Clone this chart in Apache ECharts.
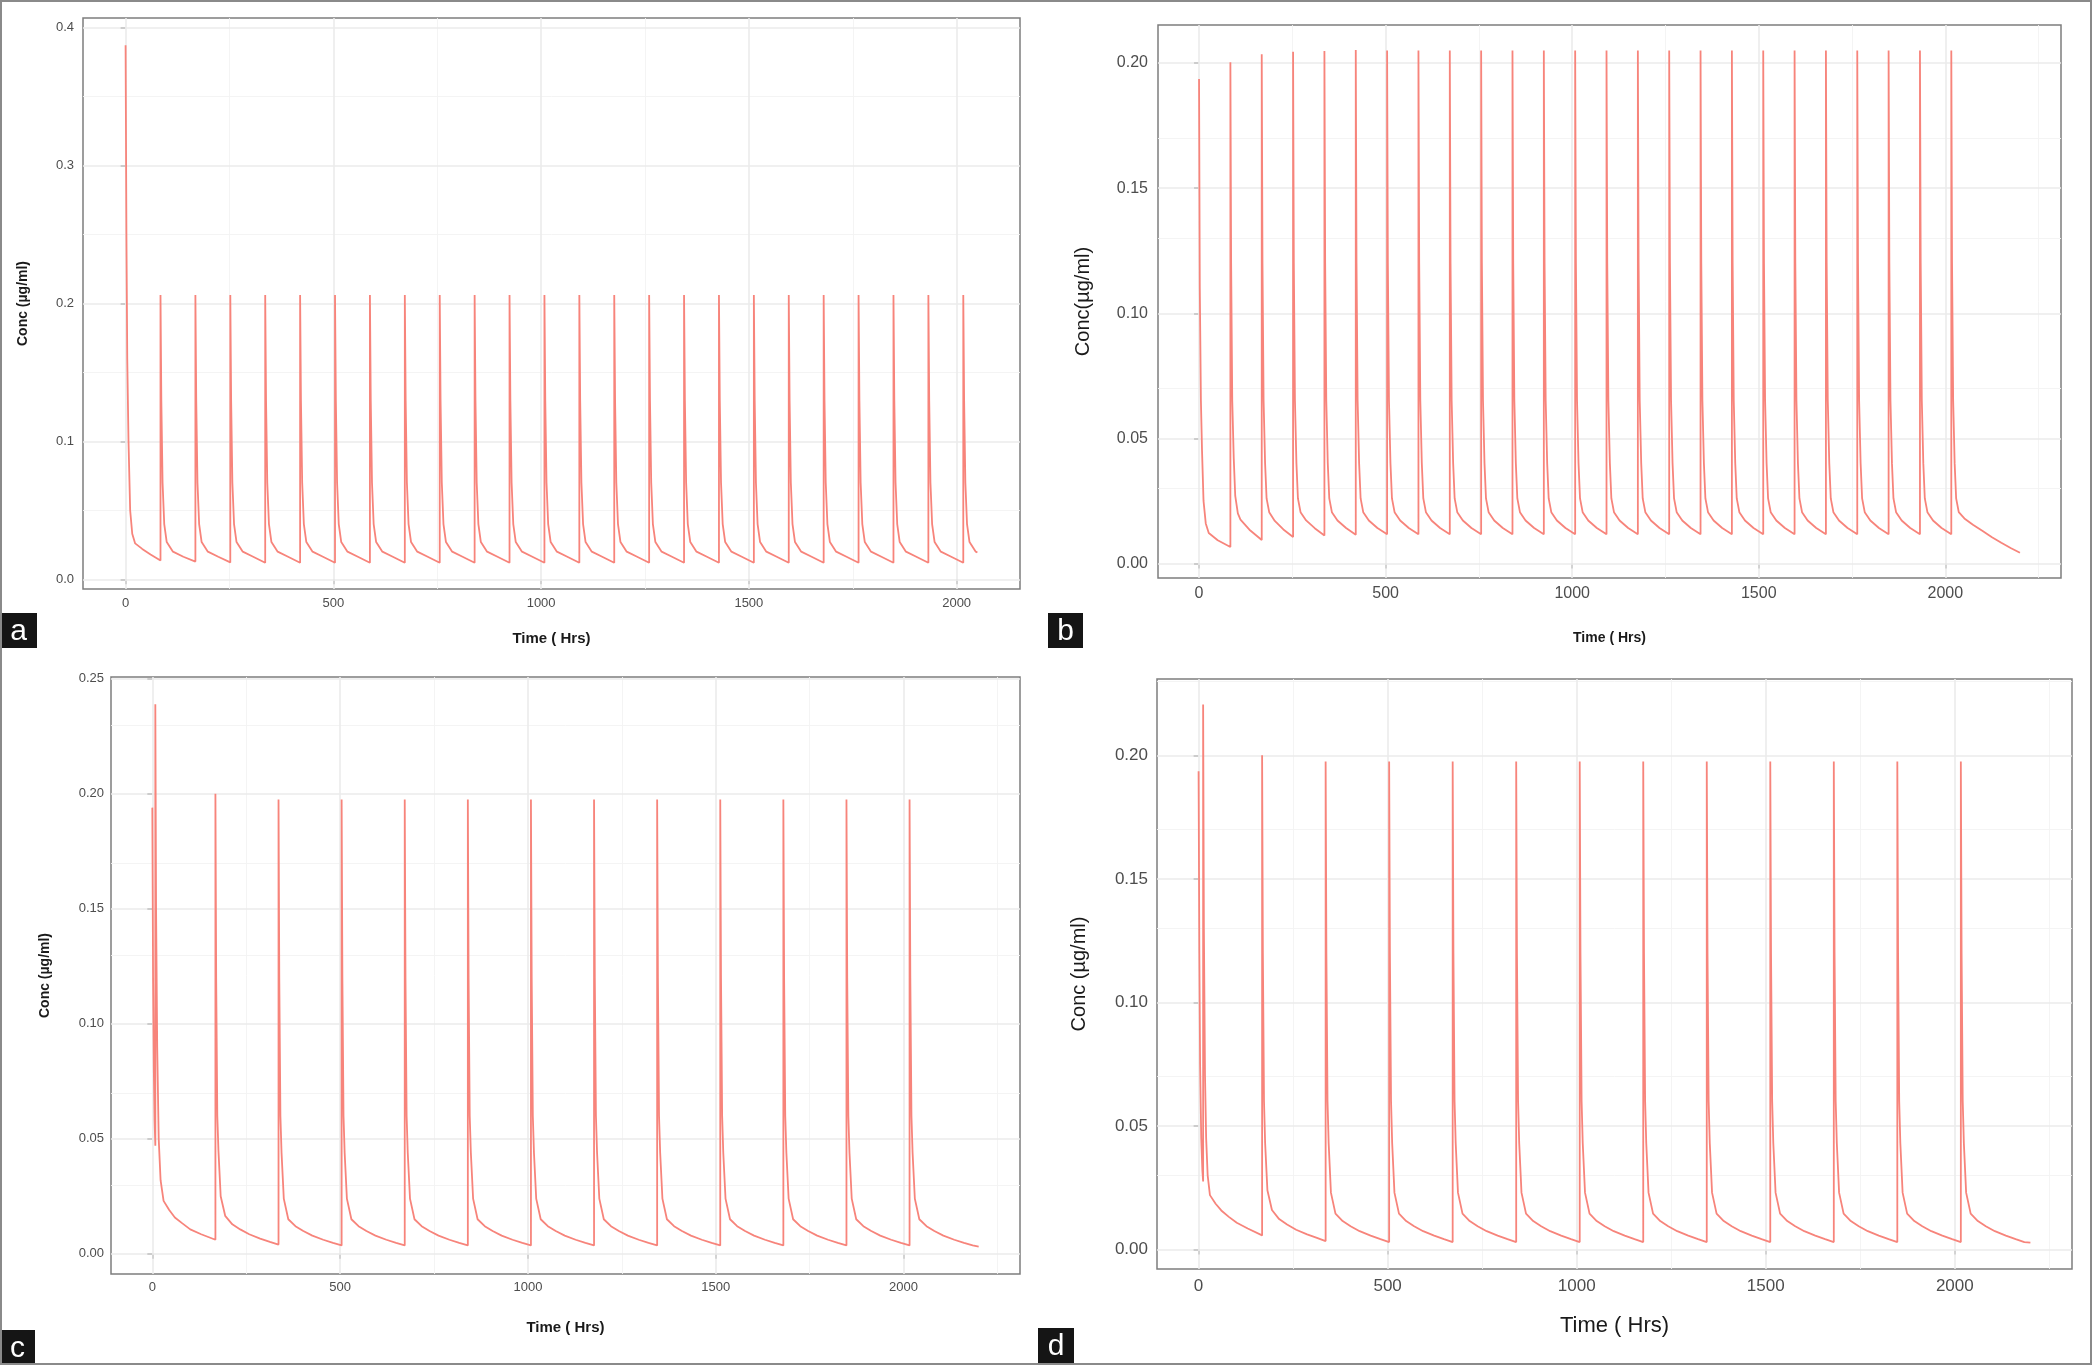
<!DOCTYPE html>
<html>
<head>
<meta charset="utf-8">
<script src="https://cdn.jsdelivr.net/npm/echarts@6/dist/echarts.min.js"></script>
<style>
  html, body { margin: 0; padding: 0; background: #fff; }
  #chart { width: 2092px; height: 1365px; }
</style>
</head>
<body>
<div id="chart"></div>
<script>
// tick values shared by the four panels
const X_MAJOR = [0, 500, 1000, 1500, 2000];
const X_MINOR_A = [250, 750, 1250, 1750];
const X_MINOR = [250, 750, 1250, 1750, 2250];
const Y_MAJOR_A = [0, 0.1, 0.2, 0.3, 0.4];
const Y_MINOR_A = [0.05, 0.15, 0.25, 0.35];
const Y_MAJOR_B = [0, 0.05, 0.10, 0.15, 0.20];
const Y_MINOR_B = [0.025, 0.075, 0.125, 0.175];
const Y_MAJOR_C = [0, 0.05, 0.10, 0.15, 0.20, 0.25];
const Y_MINOR_C = [0.025, 0.075, 0.125, 0.175, 0.225];
const Y_MAJOR_D = [0, 0.05, 0.10, 0.15, 0.20];
const Y_MINOR_D = [0.025, 0.075, 0.125, 0.175, 0.225];

// [time (h), conc (ug/ml)]
const concA = [
  [0, 0.387], [2, 0.25], [4, 0.16], [7, 0.10], [11, 0.05], [16, 0.033], [23, 0.026], [40, 0.022], [60, 0.018],
  [84, 0.0136], [84, 0.206], [86, 0.13], [89, 0.07], [93, 0.04], [99, 0.027], [114, 0.020], [139, 0.0163],
  [168, 0.0128], [168, 0.206], [170, 0.13], [173, 0.07], [177, 0.04], [183, 0.027], [198, 0.020], [223, 0.0163],
  [252, 0.0122], [252, 0.206], [254, 0.13], [257, 0.07], [261, 0.04], [267, 0.027], [282, 0.020], [307, 0.0163],
  [336, 0.0120], [336, 0.206], [338, 0.13], [341, 0.07], [345, 0.04], [351, 0.027], [366, 0.020], [391, 0.0163],
  [420, 0.0120], [420, 0.206], [422, 0.13], [425, 0.07], [429, 0.04], [435, 0.027], [450, 0.020], [475, 0.0163],
  [504, 0.0120], [504, 0.206], [506, 0.13], [509, 0.07], [513, 0.04], [519, 0.027], [534, 0.020], [559, 0.0163],
  [588, 0.0120], [588, 0.206], [590, 0.13], [593, 0.07], [597, 0.04], [603, 0.027], [618, 0.020], [643, 0.0163],
  [672, 0.0120], [672, 0.206], [674, 0.13], [677, 0.07], [681, 0.04], [687, 0.027], [702, 0.020], [727, 0.0163],
  [756, 0.0120], [756, 0.206], [758, 0.13], [761, 0.07], [765, 0.04], [771, 0.027], [786, 0.020], [811, 0.0163],
  [840, 0.0120], [840, 0.206], [842, 0.13], [845, 0.07], [849, 0.04], [855, 0.027], [870, 0.020], [895, 0.0163],
  [924, 0.0120], [924, 0.206], [926, 0.13], [929, 0.07], [933, 0.04], [939, 0.027], [954, 0.020], [979, 0.0163],
  [1008, 0.0120], [1008, 0.206], [1010, 0.13], [1013, 0.07], [1017, 0.04], [1023, 0.027], [1038, 0.020], [1063, 0.0163],
  [1092, 0.0120], [1092, 0.206], [1094, 0.13], [1097, 0.07], [1101, 0.04], [1107, 0.027], [1122, 0.020], [1147, 0.0163],
  [1176, 0.0120], [1176, 0.206], [1178, 0.13], [1181, 0.07], [1185, 0.04], [1191, 0.027], [1206, 0.020], [1231, 0.0163],
  [1260, 0.0120], [1260, 0.206], [1262, 0.13], [1265, 0.07], [1269, 0.04], [1275, 0.027], [1290, 0.020], [1315, 0.0163],
  [1344, 0.0120], [1344, 0.206], [1346, 0.13], [1349, 0.07], [1353, 0.04], [1359, 0.027], [1374, 0.020], [1399, 0.0163],
  [1428, 0.0120], [1428, 0.206], [1430, 0.13], [1433, 0.07], [1437, 0.04], [1443, 0.027], [1458, 0.020], [1483, 0.0163],
  [1512, 0.0120], [1512, 0.206], [1514, 0.13], [1517, 0.07], [1521, 0.04], [1527, 0.027], [1542, 0.020], [1567, 0.0163],
  [1596, 0.0120], [1596, 0.206], [1598, 0.13], [1601, 0.07], [1605, 0.04], [1611, 0.027], [1626, 0.020], [1651, 0.0163],
  [1680, 0.0120], [1680, 0.206], [1682, 0.13], [1685, 0.07], [1689, 0.04], [1695, 0.027], [1710, 0.020], [1735, 0.0163],
  [1764, 0.0120], [1764, 0.206], [1766, 0.13], [1769, 0.07], [1773, 0.04], [1779, 0.027], [1794, 0.020], [1819, 0.0163],
  [1848, 0.0120], [1848, 0.206], [1850, 0.13], [1853, 0.07], [1857, 0.04], [1863, 0.027], [1878, 0.020], [1903, 0.0163],
  [1932, 0.0120], [1932, 0.206], [1934, 0.13], [1937, 0.07], [1941, 0.04], [1947, 0.027], [1962, 0.020], [1987, 0.0163],
  [2016, 0.0120], [2016, 0.206], [2018, 0.13], [2021, 0.07], [2025, 0.04], [2031, 0.027], [2046, 0.020], [2050, 0.0194]
];

const concB = [
  [0, 0.1936], [2, 0.11], [5, 0.065], [8, 0.045], [12, 0.025], [18, 0.016], [26, 0.0122], [50, 0.0093],
  [84, 0.0066], [84, 0.2003], [86, 0.12], [89, 0.065], [93, 0.042], [97, 0.027], [104, 0.020], [111, 0.0175], [135, 0.0135],
  [168, 0.0094], [168, 0.2035], [170, 0.12], [173, 0.065], [177, 0.04], [181, 0.026], [188, 0.0205], [203, 0.0170], [226, 0.0136],
  [252, 0.0106], [252, 0.2045], [254, 0.12], [257, 0.065], [261, 0.04], [265, 0.026], [272, 0.0205], [287, 0.0172], [310, 0.0141],
  [336, 0.0112], [336, 0.2048], [338, 0.12], [341, 0.065], [345, 0.04], [349, 0.026], [356, 0.0205], [371, 0.0172], [394, 0.0142],
  [420, 0.0115], [420, 0.2052], [422, 0.12], [425, 0.065], [429, 0.04], [433, 0.026], [440, 0.0205], [455, 0.0172], [478, 0.0142],
  [504, 0.0117], [504, 0.205], [506, 0.12], [509, 0.065], [513, 0.04], [517, 0.026], [524, 0.0205], [539, 0.0172], [562, 0.0142],
  [588, 0.0117], [588, 0.205], [590, 0.12], [593, 0.065], [597, 0.04], [601, 0.026], [608, 0.0205], [623, 0.0172], [646, 0.0142],
  [672, 0.0117], [672, 0.205], [674, 0.12], [677, 0.065], [681, 0.04], [685, 0.026], [692, 0.0205], [707, 0.0172], [730, 0.0142],
  [756, 0.0117], [756, 0.205], [758, 0.12], [761, 0.065], [765, 0.04], [769, 0.026], [776, 0.0205], [791, 0.0172], [814, 0.0142],
  [840, 0.0117], [840, 0.205], [842, 0.12], [845, 0.065], [849, 0.04], [853, 0.026], [860, 0.0205], [875, 0.0172], [898, 0.0142],
  [924, 0.0117], [924, 0.205], [926, 0.12], [929, 0.065], [933, 0.04], [937, 0.026], [944, 0.0205], [959, 0.0172], [982, 0.0142],
  [1008, 0.0117], [1008, 0.205], [1010, 0.12], [1013, 0.065], [1017, 0.04], [1021, 0.026], [1028, 0.0205], [1043, 0.0172], [1066, 0.0142],
  [1092, 0.0117], [1092, 0.205], [1094, 0.12], [1097, 0.065], [1101, 0.04], [1105, 0.026], [1112, 0.0205], [1127, 0.0172], [1150, 0.0142],
  [1176, 0.0117], [1176, 0.205], [1178, 0.12], [1181, 0.065], [1185, 0.04], [1189, 0.026], [1196, 0.0205], [1211, 0.0172], [1234, 0.0142],
  [1260, 0.0117], [1260, 0.205], [1262, 0.12], [1265, 0.065], [1269, 0.04], [1273, 0.026], [1280, 0.0205], [1295, 0.0172], [1318, 0.0142],
  [1344, 0.0117], [1344, 0.205], [1346, 0.12], [1349, 0.065], [1353, 0.04], [1357, 0.026], [1364, 0.0205], [1379, 0.0172], [1402, 0.0142],
  [1428, 0.0117], [1428, 0.205], [1430, 0.12], [1433, 0.065], [1437, 0.04], [1441, 0.026], [1448, 0.0205], [1463, 0.0172], [1486, 0.0142],
  [1512, 0.0117], [1512, 0.205], [1514, 0.12], [1517, 0.065], [1521, 0.04], [1525, 0.026], [1532, 0.0205], [1547, 0.0172], [1570, 0.0142],
  [1596, 0.0117], [1596, 0.205], [1598, 0.12], [1601, 0.065], [1605, 0.04], [1609, 0.026], [1616, 0.0205], [1631, 0.0172], [1654, 0.0142],
  [1680, 0.0117], [1680, 0.205], [1682, 0.12], [1685, 0.065], [1689, 0.04], [1693, 0.026], [1700, 0.0205], [1715, 0.0172], [1738, 0.0142],
  [1764, 0.0117], [1764, 0.205], [1766, 0.12], [1769, 0.065], [1773, 0.04], [1777, 0.026], [1784, 0.0205], [1799, 0.0172], [1822, 0.0142],
  [1848, 0.0117], [1848, 0.205], [1850, 0.12], [1853, 0.065], [1857, 0.04], [1861, 0.026], [1868, 0.0205], [1883, 0.0172], [1906, 0.0142],
  [1932, 0.0117], [1932, 0.205], [1934, 0.12], [1937, 0.065], [1941, 0.04], [1945, 0.026], [1952, 0.0205], [1967, 0.0172], [1990, 0.0142],
  [2016, 0.0117], [2016, 0.205], [2018, 0.12], [2021, 0.065], [2025, 0.04], [2029, 0.026], [2036, 0.0205], [2051, 0.018], [2074, 0.0155],
  [2100, 0.0130], [2125, 0.0105], [2150, 0.0083], [2175, 0.0062], [2200, 0.0043]
];

const concC = [
  [0, 0.194], [2, 0.12], [4, 0.08], [6, 0.058], [8, 0.047], [8, 0.239], [10, 0.15], [13, 0.09], [17, 0.05], [22, 0.032],
  [30, 0.023], [45, 0.019], [60, 0.0158], [80, 0.0132], [101, 0.0106], [130, 0.0085],
  [168, 0.0061], [168, 0.200], [170, 0.12], [173, 0.06], [176, 0.045], [182, 0.025], [194, 0.0165], [213, 0.0128], [234, 0.0106], [258, 0.0085], [287, 0.0066], [313, 0.0052],
  [336, 0.0040], [336, 0.1975], [338, 0.12], [341, 0.06], [344, 0.044], [350, 0.024], [362, 0.015], [381, 0.0120], [402, 0.0099], [426, 0.0079], [455, 0.0061], [481, 0.0047],
  [504, 0.0036], [504, 0.1975], [506, 0.12], [509, 0.06], [512, 0.044], [518, 0.024], [530, 0.015], [549, 0.0120], [570, 0.0099], [594, 0.0079], [623, 0.0061], [649, 0.0047],
  [672, 0.0036], [672, 0.1975], [674, 0.12], [677, 0.06], [680, 0.044], [686, 0.024], [698, 0.015], [717, 0.0120], [738, 0.0099], [762, 0.0079], [791, 0.0061], [817, 0.0047],
  [840, 0.0036], [840, 0.1975], [842, 0.12], [845, 0.06], [848, 0.044], [854, 0.024], [866, 0.015], [885, 0.0120], [906, 0.0099], [930, 0.0079], [959, 0.0061], [985, 0.0047],
  [1008, 0.0036], [1008, 0.1975], [1010, 0.12], [1013, 0.06], [1016, 0.044], [1022, 0.024], [1034, 0.015], [1053, 0.0120], [1074, 0.0099], [1098, 0.0079], [1127, 0.0061], [1153, 0.0047],
  [1176, 0.0036], [1176, 0.1975], [1178, 0.12], [1181, 0.06], [1184, 0.044], [1190, 0.024], [1202, 0.015], [1221, 0.0120], [1242, 0.0099], [1266, 0.0079], [1295, 0.0061], [1321, 0.0047],
  [1344, 0.0036], [1344, 0.1975], [1346, 0.12], [1349, 0.06], [1352, 0.044], [1358, 0.024], [1370, 0.015], [1389, 0.0120], [1410, 0.0099], [1434, 0.0079], [1463, 0.0061], [1489, 0.0047],
  [1512, 0.0036], [1512, 0.1975], [1514, 0.12], [1517, 0.06], [1520, 0.044], [1526, 0.024], [1538, 0.015], [1557, 0.0120], [1578, 0.0099], [1602, 0.0079], [1631, 0.0061], [1657, 0.0047],
  [1680, 0.0036], [1680, 0.1975], [1682, 0.12], [1685, 0.06], [1688, 0.044], [1694, 0.024], [1706, 0.015], [1725, 0.0120], [1746, 0.0099], [1770, 0.0079], [1799, 0.0061], [1825, 0.0047],
  [1848, 0.0036], [1848, 0.1975], [1850, 0.12], [1853, 0.06], [1856, 0.044], [1862, 0.024], [1874, 0.015], [1893, 0.0120], [1914, 0.0099], [1938, 0.0079], [1967, 0.0061], [1993, 0.0047],
  [2016, 0.0036], [2016, 0.1975], [2018, 0.12], [2021, 0.06], [2024, 0.044], [2030, 0.024], [2042, 0.015], [2061, 0.0120], [2082, 0.0099], [2106, 0.0079], [2135, 0.0061], [2161, 0.0047],
  [2184, 0.0036], [2200, 0.0031]
];

const concD = [
  [0, 0.1936], [2, 0.12], [4, 0.075], [7, 0.045], [10, 0.032], [12, 0.0275], [12, 0.2206], [14, 0.13], [17, 0.07], [20, 0.045], [24, 0.030],
  [30, 0.022], [45, 0.0185], [60, 0.0158], [80, 0.0132], [101, 0.0108], [130, 0.0085],
  [168, 0.0057], [168, 0.200], [170, 0.12], [173, 0.06], [176, 0.043], [182, 0.024], [194, 0.0160], [213, 0.0123], [234, 0.0101], [258, 0.0080], [287, 0.0061], [313, 0.0047],
  [336, 0.0034], [336, 0.1975], [338, 0.12], [341, 0.06], [344, 0.043], [350, 0.023], [362, 0.0145], [381, 0.0115], [402, 0.0094], [426, 0.0074], [455, 0.0056], [481, 0.0042],
  [504, 0.0030], [504, 0.1975], [506, 0.12], [509, 0.06], [512, 0.043], [518, 0.023], [530, 0.0145], [549, 0.0115], [570, 0.0094], [594, 0.0074], [623, 0.0056], [649, 0.0042],
  [672, 0.0030], [672, 0.1975], [674, 0.12], [677, 0.06], [680, 0.043], [686, 0.023], [698, 0.0145], [717, 0.0115], [738, 0.0094], [762, 0.0074], [791, 0.0056], [817, 0.0042],
  [840, 0.0030], [840, 0.1975], [842, 0.12], [845, 0.06], [848, 0.043], [854, 0.023], [866, 0.0145], [885, 0.0115], [906, 0.0094], [930, 0.0074], [959, 0.0056], [985, 0.0042],
  [1008, 0.0030], [1008, 0.1975], [1010, 0.12], [1013, 0.06], [1016, 0.043], [1022, 0.023], [1034, 0.0145], [1053, 0.0115], [1074, 0.0094], [1098, 0.0074], [1127, 0.0056], [1153, 0.0042],
  [1176, 0.0030], [1176, 0.1975], [1178, 0.12], [1181, 0.06], [1184, 0.043], [1190, 0.023], [1202, 0.0145], [1221, 0.0115], [1242, 0.0094], [1266, 0.0074], [1295, 0.0056], [1321, 0.0042],
  [1344, 0.0030], [1344, 0.1975], [1346, 0.12], [1349, 0.06], [1352, 0.043], [1358, 0.023], [1370, 0.0145], [1389, 0.0115], [1410, 0.0094], [1434, 0.0074], [1463, 0.0056], [1489, 0.0042],
  [1512, 0.0030], [1512, 0.1975], [1514, 0.12], [1517, 0.06], [1520, 0.043], [1526, 0.023], [1538, 0.0145], [1557, 0.0115], [1578, 0.0094], [1602, 0.0074], [1631, 0.0056], [1657, 0.0042],
  [1680, 0.0030], [1680, 0.1975], [1682, 0.12], [1685, 0.06], [1688, 0.043], [1694, 0.023], [1706, 0.0145], [1725, 0.0115], [1746, 0.0094], [1770, 0.0074], [1799, 0.0056], [1825, 0.0042],
  [1848, 0.0030], [1848, 0.1975], [1850, 0.12], [1853, 0.06], [1856, 0.043], [1862, 0.023], [1874, 0.0145], [1893, 0.0115], [1914, 0.0094], [1938, 0.0074], [1967, 0.0056], [1993, 0.0042],
  [2016, 0.0030], [2016, 0.1975], [2018, 0.12], [2021, 0.06], [2024, 0.043], [2030, 0.023], [2042, 0.0145], [2061, 0.0115], [2082, 0.0094], [2106, 0.0074], [2135, 0.0056], [2161, 0.0042],
  [2184, 0.0030], [2200, 0.0028]
];

const FONT = '"Liberation Sans", Arial, sans-serif';
const LINE_COLOR = '#f7847b';

// layout of each panel (pixels); axis ranges follow ggplot's 5% padding
const panels = [
  { tag: 'a', data: concA, grid: { left: 83, top: 18, width: 937, height: 571 },
    xMin: -102.5, xMax: 2152.5, yMin: -0.00706, yMax: 0.4068,
    xMinor: X_MINOR_A, yMajor: Y_MAJOR_A, yMinor: Y_MINOR_A, digits: 1,
    tickSize: 13, xMargin: 8, yMargin: 9,
    yName: 'Conc (µg/ml)', nameSize: 14, nameWeight: 'bold', xGap: 42, yGap: 53,
    box: [0, 613, 37, 35] },
  { tag: 'b', data: concB, grid: { left: 1158, top: 25, width: 903, height: 553 },
    xMin: -110, xMax: 2310, yMin: -0.0058, yMax: 0.2152,
    xMinor: X_MINOR, yMajor: Y_MAJOR_B, yMinor: Y_MINOR_B, digits: 2,
    tickSize: 16, xMargin: 8, yMargin: 10,
    yName: 'Conc(µg/ml)', nameSize: 20, nameWeight: 'normal', xGap: 53, yGap: 65,
    xNameSize: 14, xNameWeight: 'bold',
    box: [1048, 613, 35, 35] },
  { tag: 'c', data: concC, grid: { left: 111, top: 677, width: 909, height: 597 },
    xMin: -110, xMax: 2310, yMin: -0.0088, yMax: 0.2508,
    xMinor: X_MINOR, yMajor: Y_MAJOR_C, yMinor: Y_MINOR_C, digits: 2,
    tickSize: 13, xMargin: 7, yMargin: 7,
    yName: 'Conc (µg/ml)', nameSize: 14, nameWeight: 'bold', xGap: 46, yGap: 59,
    box: [0, 1330, 35, 35] },
  { tag: 'd', data: concD, grid: { left: 1157, top: 679, width: 915, height: 590 },
    xMin: -110, xMax: 2310, yMin: -0.0079, yMax: 0.2309,
    xMinor: X_MINOR, yMajor: Y_MAJOR_D, yMinor: Y_MINOR_D, digits: 2,
    tickSize: 17, xMargin: 9, yMargin: 9,
    yName: 'Conc (µg/ml)', nameSize: 20, nameWeight: 'normal', xGap: 46, yGap: 68,
    xNameSize: 22, xNameWeight: 'normal',
    box: [1038, 1328, 36, 36] }
];

const gridLines = (p) => {
  const major = { color: '#ebebeb', width: 1.6, type: 'solid' };
  const minor = { color: '#f3f3f3', width: 0.9, type: 'solid' };
  return [].concat(
    p.xMinor.map(v => ({ xAxis: v, lineStyle: minor })),
    p.yMinor.map(v => ({ yAxis: v, lineStyle: minor })),
    X_MAJOR.map(v => ({ xAxis: v, lineStyle: major })),
    p.yMajor.map(v => ({ yAxis: v, lineStyle: major }))
  );
};

const option = {
  backgroundColor: '#fff',
  animation: false,
  grid: [],
  xAxis: [],
  yAxis: [],
  series: [],
  graphic: [
    { type: 'rect', shape: { x: 1, y: 1, width: 2090, height: 1363 },
      style: { fill: 'none', stroke: '#8a8a8a', lineWidth: 2 }, z: 100 }
  ]
};

panels.forEach((p, i) => {
  option.grid.push(Object.assign({
    show: true, borderColor: '#7d7d7d', borderWidth: 1.5, backgroundColor: '#fff'
  }, p.grid));

  option.xAxis.push({
    type: 'value', gridIndex: i, min: p.xMin, max: p.xMax,
    axisLine: { show: false },
    splitLine: { show: false },
    axisTick: { show: true, customValues: X_MAJOR, length: 5, lineStyle: { color: '#444', width: 1.5 } },
    axisLabel: { customValues: X_MAJOR, margin: p.xMargin, fontSize: p.tickSize, color: '#4d4d4d', fontFamily: FONT,
      formatter: v => String(v) },
    name: 'Time ( Hrs)', nameLocation: 'middle', nameGap: p.xGap,
    nameTextStyle: { fontSize: p.xNameSize || 15, fontWeight: p.xNameWeight || 'bold', color: '#1a1a1a', fontFamily: FONT }
  });

  option.yAxis.push({
    type: 'value', gridIndex: i, min: p.yMin, max: p.yMax,
    axisLine: { show: false },
    splitLine: { show: false },
    axisTick: { show: true, customValues: p.yMajor, length: 5, lineStyle: { color: '#444', width: 1.5 } },
    axisLabel: { customValues: p.yMajor, margin: p.yMargin, fontSize: p.tickSize, color: '#4d4d4d', fontFamily: FONT,
      formatter: v => v.toFixed(p.digits) },
    name: p.yName, nameLocation: 'middle', nameGap: p.yGap,
    nameTextStyle: { fontSize: p.nameSize, fontWeight: p.nameWeight, color: '#1a1a1a', fontFamily: FONT }
  });

  // background grid drawn as mark lines (ggplot style major + minor)
  option.series.push({
    type: 'line', xAxisIndex: i, yAxisIndex: i, data: [], z: 1, silent: true,
    markLine: { silent: true, symbol: ['none', 'none'], label: { show: false }, animation: false, data: gridLines(p) }
  });

  option.series.push({
    name: 'panel ' + p.tag, type: 'line', xAxisIndex: i, yAxisIndex: i, z: 5,
    data: p.data, showSymbol: false, symbol: 'none', clip: true,
    lineStyle: { color: LINE_COLOR, width: 1.8 }
  });

  // panel letter in a black box
  option.graphic.push({
    type: 'group', left: p.box[0], top: p.box[1], z: 101,
    children: [
      { type: 'rect', shape: { x: 0, y: 0, width: p.box[2], height: p.box[3] }, style: { fill: '#151515' } },
      { type: 'text', x: p.box[2] / 2, y: p.box[3] / 2 + 1,
        style: { text: p.tag, fill: '#fff', font: '30px ' + FONT, align: 'center', verticalAlign: 'middle' } }
    ]
  });
});

const chart = echarts.init(document.getElementById('chart'));
chart.setOption(option);
</script>
</body>
</html>
